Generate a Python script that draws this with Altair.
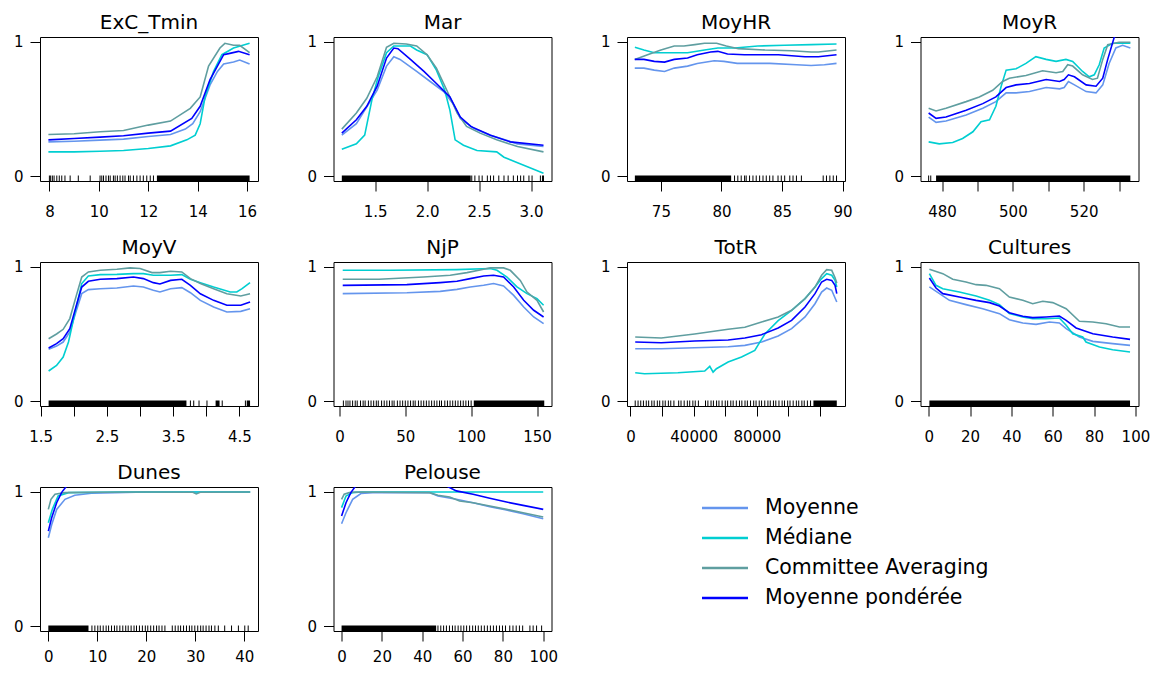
import altair as alt
import pandas as pd

SERIES = ["Moyenne", "Médiane", "Committee Averaging", "Moyenne pondérée"]
COLORS = ["#6495ED", "#00CED1", "#5F9EA0", "#0000FF"]
FONT = "DejaVu Sans"
Y_TICKS = [0, 0.2, 0.4, 0.6, 0.8, 1]

# ---------------- ExC_Tmin ----------------
EXC_MOY = [(7.96, 0.255), (9.0, 0.26), (10.05, 0.268), (11.0, 0.275), (12.0, 0.295), (12.9, 0.31),
           (13.5, 0.35), (13.8, 0.39), (14.1, 0.48), (14.5, 0.68), (14.8, 0.78), (15.05, 0.835),
           (15.45, 0.85), (15.7, 0.865), (16.1, 0.835)]
EXC_MED = [(7.96, 0.18), (9.0, 0.18), (10.05, 0.185), (11.0, 0.19), (12.0, 0.205), (12.9, 0.225),
           (13.56, 0.27), (13.9, 0.305), (14.1, 0.39), (14.3, 0.59), (14.64, 0.78), (14.98, 0.905),
           (15.45, 0.955), (16.1, 0.99)]
EXC_CA = [(7.96, 0.31), (9.0, 0.315), (10.05, 0.33), (11.0, 0.34), (12.0, 0.38), (12.9, 0.41),
          (13.7, 0.505), (14.1, 0.59), (14.44, 0.82), (14.9, 0.955), (15.1, 0.99), (15.45, 0.975),
          (15.7, 0.975), (16.1, 0.92)]
EXC_POND = [(7.96, 0.27), (9.0, 0.28), (10.05, 0.29), (11.0, 0.30), (12.0, 0.32), (12.9, 0.335),
            (13.76, 0.43), (14.1, 0.52), (14.5, 0.72), (15.05, 0.905), (15.3, 0.915), (15.65, 0.93),
            (16.1, 0.905)]
EXC_RUG = [8.0, 8.05, 8.12, 8.19, 8.3, 8.4, 8.5, 8.63, 8.84, 9.17, 9.65, 10.05, 10.12, 10.19, 10.29,
           10.39, 10.46, 10.59, 10.66, 10.75, 10.86, 10.97, 11.06, 11.2, 11.27, 11.4, 11.54, 11.67,
           11.8, 11.94, 12.08, 12.21]
EXC_RUG_DENSE = [(12.35, 16.1)]

# ---------------- Mar ----------------
MAR_MOY = [(1.18, 0.305), (1.32, 0.39), (1.52, 0.64), (1.61, 0.82), (1.68, 0.89), (1.74, 0.87),
           (1.9, 0.78), (2.03, 0.705), (2.16, 0.63), (2.25, 0.54), (2.32, 0.43), (2.45, 0.355),
           (2.61, 0.305), (2.87, 0.24), (3.12, 0.22)]
MAR_MED = [(1.18, 0.2), (1.32, 0.24), (1.40, 0.305), (1.47, 0.57), (1.53, 0.74), (1.61, 0.92),
           (1.68, 0.97), (1.84, 0.97), (1.9, 0.94), (2.0, 0.905), (2.09, 0.79), (2.17, 0.64),
           (2.22, 0.49), (2.27, 0.27), (2.35, 0.23), (2.48, 0.19), (2.67, 0.18), (2.74, 0.14),
           (2.9, 0.09), (3.12, 0.02)]
MAR_CA = [(1.18, 0.35), (1.32, 0.47), (1.42, 0.58), (1.52, 0.74), (1.61, 0.96), (1.68, 0.99),
          (1.8, 0.985), (1.9, 0.97), (2.0, 0.905), (2.09, 0.805), (2.19, 0.64), (2.29, 0.47),
          (2.38, 0.37), (2.51, 0.32), (2.67, 0.27), (2.87, 0.22), (3.12, 0.18)]
MAR_POND = [(1.18, 0.32), (1.32, 0.42), (1.42, 0.52), (1.52, 0.67), (1.61, 0.88), (1.68, 0.955),
            (1.72, 0.95), (1.84, 0.87), (1.97, 0.78), (2.09, 0.69), (2.22, 0.59), (2.32, 0.44),
            (2.42, 0.37), (2.61, 0.305), (2.8, 0.255), (3.12, 0.23)]
MAR_RUG = [2.43, 2.46, 2.5, 2.53, 2.58, 2.61, 2.64, 2.69, 2.74, 2.78, 2.83, 2.87, 2.9, 2.93, 2.98,
           3.01, 3.09, 3.11, 3.12]
MAR_RUG_DENSE = [(1.18, 2.42)]

# ---------------- MoyHR ----------------
MOYHR_MOY = [(72.84, 0.805), (73.6, 0.805), (74.45, 0.79), (75.3, 0.78), (76.1, 0.805), (77.2, 0.82),
             (78.0, 0.84), (79.4, 0.86), (80.2, 0.855), (81.3, 0.84), (84.0, 0.84), (86.2, 0.83),
             (87.4, 0.825), (88.5, 0.83), (89.5, 0.84)]
MOYHR_MED = [(72.85, 0.96), (73.6, 0.94), (74.45, 0.92), (75.3, 0.92), (76.4, 0.92), (77.2, 0.92),
             (78.6, 0.94), (79.7, 0.955), (81.1, 0.955), (83.0, 0.97), (85.2, 0.975), (87.4, 0.98),
             (89.5, 0.985)]
MOYHR_CA = [(72.84, 0.87), (73.9, 0.905), (75.0, 0.94), (76.1, 0.97), (76.9, 0.97), (77.8, 0.98),
            (78.6, 0.99), (79.6, 0.99), (80.4, 0.97), (81.4, 0.95), (83.6, 0.94), (85.8, 0.935),
            (87.4, 0.925), (88.0, 0.925), (89.5, 0.94)]
MOYHR_POND = [(72.84, 0.87), (73.6, 0.87), (74.45, 0.855), (75.3, 0.85), (76.1, 0.87), (77.2, 0.88),
              (78.0, 0.905), (79.1, 0.925), (79.7, 0.93), (80.5, 0.91), (81.9, 0.905), (84.7, 0.905),
              (86.9, 0.89), (88.0, 0.89), (89.5, 0.905)]
MOYHR_RUG = [81.08, 81.35, 81.63, 81.91, 82.04, 82.32, 82.6, 82.87, 83.15, 83.43, 83.7, 83.98,
             84.25, 84.67, 84.94, 85.22, 85.64, 85.91, 86.19, 86.6, 88.4, 88.67, 88.95, 89.23, 89.5]
MOYHR_RUG_DENSE = [(72.85, 80.8)]

# ---------------- MoyR ----------------
MOYR_MOY = [(476.2, 0.44), (478.3, 0.40), (481.1, 0.41), (486.8, 0.455), (491.5, 0.505), (495.2, 0.555),
            (498.1, 0.62), (500.9, 0.62), (504.7, 0.63), (509.4, 0.66), (513.2, 0.65), (514.5, 0.66),
            (515.7, 0.705), (517.4, 0.68), (520.7, 0.63), (523.5, 0.62), (525.4, 0.68), (527.2, 0.84),
            (529.1, 0.955), (531.0, 0.975), (533.2, 0.955)]
MOYR_MED = [(476.2, 0.255), (479.2, 0.24), (483.0, 0.25), (485.8, 0.28), (488.7, 0.33), (491.0, 0.405),
            (493.4, 0.42), (495.2, 0.52), (496.7, 0.67), (498.1, 0.79), (500.9, 0.8), (503.7, 0.84),
            (506.5, 0.89), (509.4, 0.87), (512.2, 0.855), (515.0, 0.87), (516.9, 0.855), (519.7, 0.78),
            (521.6, 0.74), (523.0, 0.755), (524.4, 0.83), (525.8, 0.955), (528.2, 0.99), (533.2, 0.99)]
MOYR_CA = [(476.2, 0.505), (478.3, 0.485), (481.1, 0.505), (486.8, 0.555), (490.5, 0.59), (494.3, 0.64),
           (497.1, 0.705), (499.0, 0.73), (503.7, 0.75), (508.4, 0.785), (512.2, 0.77), (514.1, 0.78),
           (515.5, 0.83), (516.9, 0.82), (519.7, 0.755), (522.5, 0.72), (523.9, 0.73), (525.4, 0.87),
           (526.8, 0.98), (530.0, 0.998), (533.2, 0.998)]
MOYR_POND = [(476.2, 0.47), (478.3, 0.43), (481.1, 0.44), (486.8, 0.49), (491.5, 0.54), (495.2, 0.59),
             (498.1, 0.66), (500.9, 0.68), (504.7, 0.69), (509.4, 0.72), (513.2, 0.705), (514.5, 0.72),
             (515.7, 0.755), (517.4, 0.74), (520.7, 0.68), (523.5, 0.67), (525.4, 0.73), (526.8, 0.87),
             (528.7, 1.04), (533.2, 1.06)]
MOYR_RUG = [476.2, 476.8]
MOYR_RUG_DENSE = [(478.3, 533.2)]

# ---------------- MoyV ----------------
MOYV_MOY = [(1.62, 0.386), (1.74, 0.41), (1.84, 0.44), (1.94, 0.515), (2.04, 0.677), (2.12, 0.801),
            (2.22, 0.831), (2.4, 0.838), (2.65, 0.843), (2.9, 0.858), (3.05, 0.851), (3.2, 0.826),
            (3.3, 0.813), (3.46, 0.838), (3.63, 0.846), (3.76, 0.808), (3.91, 0.751), (4.11, 0.701),
            (4.31, 0.664), (4.52, 0.669), (4.66, 0.689)]
MOYV_MED = [(1.62, 0.224), (1.74, 0.266), (1.84, 0.328), (1.92, 0.44), (2.02, 0.664), (2.12, 0.876),
            (2.22, 0.933), (2.4, 0.943), (2.65, 0.945), (2.9, 0.95), (3.05, 0.95), (3.2, 0.938),
            (3.3, 0.938), (3.46, 0.938), (3.63, 0.943), (3.76, 0.908), (3.91, 0.883), (4.11, 0.85),
            (4.36, 0.813), (4.46, 0.813), (4.54, 0.838), (4.66, 0.883)]
MOYV_CA = [(1.62, 0.465), (1.74, 0.50), (1.84, 0.535), (1.94, 0.615), (2.04, 0.79), (2.12, 0.925),
           (2.22, 0.963), (2.4, 0.975), (2.65, 0.983), (2.85, 0.993), (3.0, 0.988), (3.18, 0.958),
           (3.3, 0.958), (3.46, 0.968), (3.63, 0.963), (3.76, 0.913), (3.91, 0.876), (4.11, 0.838),
           (4.31, 0.8), (4.52, 0.784), (4.66, 0.8)]
MOYV_POND = [(1.62, 0.396), (1.74, 0.428), (1.84, 0.465), (1.94, 0.54), (2.04, 0.714), (2.12, 0.85),
             (2.22, 0.893), (2.4, 0.908), (2.65, 0.913), (2.9, 0.925), (3.05, 0.913), (3.2, 0.883),
             (3.3, 0.873), (3.46, 0.9), (3.63, 0.908), (3.76, 0.863), (3.91, 0.8), (4.11, 0.751),
             (4.31, 0.714), (4.52, 0.714), (4.66, 0.739)]
MOYV_RUG = [3.76, 3.81, 3.89, 4.01, 4.24, 4.59]
MOYV_RUG_DENSE = [(1.62, 3.7), (4.14, 4.2), (4.61, 4.66)]

# ---------------- NjP ----------------
NJP_MOY = [(2.5, 0.801), (51.2, 0.808), (76.5, 0.818), (89.2, 0.833), (99.3, 0.851), (109.5, 0.863),
           (117.0, 0.876), (124.6, 0.858), (132.3, 0.788), (139.9, 0.701), (147.5, 0.627), (155.0, 0.577)]
NJP_MED = [(2.5, 0.975), (38.5, 0.975), (89.0, 0.98), (114.5, 0.988), (119.6, 0.975), (127.2, 0.925),
           (134.8, 0.851), (142.4, 0.801), (150.0, 0.764), (155.0, 0.714)]
NJP_CA = [(2.5, 0.908), (30.0, 0.908), (63.8, 0.925), (84.1, 0.938), (96.8, 0.958), (109.5, 0.983),
          (114.5, 0.993), (124.6, 0.993), (129.7, 0.975), (137.3, 0.9), (142.4, 0.813), (150.0, 0.751),
          (155.0, 0.664)]
NJP_POND = [(2.5, 0.863), (51.2, 0.868), (76.5, 0.883), (89.2, 0.893), (99.3, 0.913), (109.5, 0.933),
            (117.0, 0.938), (124.6, 0.925), (132.3, 0.851), (139.9, 0.751), (147.5, 0.677), (155.0, 0.627)]
NJP_RUG = [3, 5, 6.5, 8, 10, 12, 13.5, 16, 18, 19.5, 22, 24, 26, 28, 29.5, 32, 34, 36, 38, 40, 41.5,
           44, 46, 48, 50, 52, 54, 56, 57.5, 60, 62, 64, 66, 68, 70, 72, 74, 76, 77.5, 80, 82, 84,
           86, 88, 90, 92, 94, 96, 98, 100]
NJP_RUG_DENSE = [(102, 155.5)]

# ---------------- TotR ----------------
TOTR_MOY = [(3000, 0.39), (19500, 0.39), (40600, 0.398), (61800, 0.405), (72400, 0.415), (83000, 0.44),
            (93500, 0.485), (102000, 0.54), (110500, 0.627), (116800, 0.726), (121000, 0.813),
            (124200, 0.843), (127400, 0.826), (130600, 0.739)]
TOTR_MED = [(3000, 0.211), (8900, 0.204), (30000, 0.211), (47000, 0.224), (50200, 0.259), (52300, 0.216),
            (54400, 0.241), (61800, 0.291), (70300, 0.328), (78700, 0.378), (81900, 0.44), (85100, 0.5),
            (93500, 0.6), (102000, 0.677), (110500, 0.764), (116800, 0.85), (121000, 0.913),
            (124200, 0.95), (127400, 0.938), (129500, 0.9), (130600, 0.85)]
TOTR_CA = [(3000, 0.478), (19500, 0.47), (40600, 0.5), (61800, 0.535), (72400, 0.55), (83000, 0.59),
           (93500, 0.627), (102000, 0.677), (110500, 0.764), (116800, 0.85), (121000, 0.938),
           (124200, 0.98), (127400, 0.975), (129500, 0.92), (130600, 0.88)]
TOTR_POND = [(3000, 0.44), (19500, 0.435), (40600, 0.448), (61800, 0.455), (72400, 0.47), (83000, 0.495),
             (93500, 0.545), (102000, 0.602), (110500, 0.701), (116800, 0.801), (121000, 0.888),
             (124200, 0.908), (127400, 0.9), (129500, 0.863), (130600, 0.801)]
TOTR_RUG = [3000, 4800, 6500, 8200, 10000, 11500, 13500, 15000, 17000, 18500, 20500, 22000, 24000,
            25500, 27500, 30500, 32000, 34000, 36000, 37500, 39500, 41000, 43000, 47500, 49000,
            51000, 52500, 54500, 56000, 58000, 60000, 61500, 63500, 65000, 67000, 69000, 70500,
            72500, 74000, 76000, 78000, 79500, 81500, 83000, 85000, 87000, 88500, 90500, 92000,
            94000, 96000, 97500, 99500, 101000, 103000, 105000, 106500, 108500, 110000, 112000, 114000]
TOTR_RUG_DENSE = [(115800, 130600)]

# ---------------- Cultures ----------------
CULT_MOY = [(0.3, 0.851), (5.2, 0.801), (10.0, 0.751), (18.0, 0.719), (26.1, 0.689), (34.2, 0.652),
            (39.0, 0.607), (45.5, 0.582), (51.9, 0.572), (58.4, 0.59), (63.2, 0.582), (66.5, 0.54),
            (72.9, 0.478), (79.4, 0.445), (89.0, 0.428), (97.4, 0.415)]
CULT_MED = [(0.3, 0.95), (3.5, 0.863), (6.8, 0.838), (14.8, 0.813), (22.9, 0.784), (29.4, 0.751),
            (34.2, 0.719), (39.0, 0.652), (45.5, 0.627), (50.3, 0.614), (56.8, 0.614), (63.2, 0.619),
            (66.5, 0.565), (69.7, 0.502), (74.5, 0.478), (76.1, 0.44), (82.6, 0.403), (89.0, 0.383),
            (97.4, 0.366)]
CULT_CA = [(0.3, 0.983), (6.8, 0.95), (11.6, 0.908), (18.0, 0.888), (22.9, 0.868), (27.7, 0.863),
           (34.2, 0.838), (39.0, 0.776), (45.5, 0.751), (50.3, 0.726), (55.2, 0.744), (60.0, 0.734),
           (66.5, 0.689), (72.9, 0.595), (79.4, 0.59), (85.8, 0.577), (92.3, 0.552), (97.4, 0.552)]
CULT_POND = [(0.3, 0.918), (3.5, 0.843), (6.8, 0.801), (14.8, 0.776), (22.9, 0.751), (29.4, 0.734),
             (34.2, 0.709), (39.0, 0.659), (45.5, 0.632), (50.3, 0.622), (56.8, 0.627), (63.2, 0.634),
             (66.5, 0.602), (71.3, 0.545), (79.4, 0.502), (89.0, 0.478), (97.4, 0.46)]
CULT_RUG = []
CULT_RUG_DENSE = [(0.3, 97.4)]

# ---------------- Dunes ----------------
DUNES_MOY = [(0, 0.658), (0.68, 0.755), (1.7, 0.87), (3.4, 0.945), (5.4, 0.975), (8.8, 0.99),
             (13.6, 0.995), (20, 1.0), (41.2, 1.0)]
DUNES_MED = [(0, 0.77), (0.82, 0.87), (2.0, 0.97), (4.1, 0.995), (15, 1.0), (41.2, 1.0)]
DUNES_CA = [(0, 0.87), (0.54, 0.945), (1.36, 0.983), (3.4, 0.995), (10, 0.998), (20, 1.0),
            (29.5, 0.998), (30.2, 0.985), (31, 0.998), (41.2, 1.0)]
DUNES_POND = [(0, 0.708), (0.68, 0.808), (1.7, 0.92), (2.7, 0.995), (3.74, 1.045), (5.0, 1.1)]
DUNES_RUG = [8.9, 9.5, 10.1, 10.6, 11.2, 11.8, 12.3, 12.9, 13.5, 14.0, 14.6, 15.2, 15.8, 16.3, 16.9,
             17.5, 18.0, 18.6, 19.2, 19.8, 20.3, 20.9, 21.5, 22.1, 22.6, 23.2, 23.8, 25.3, 25.9, 26.5,
             27.0, 27.6, 28.2, 28.8, 29.3, 29.9, 30.5, 31.1, 31.6, 32.2, 32.8, 33.3, 34.0, 34.7, 36.0,
             37.4, 38.8, 40.1, 40.8]
DUNES_RUG_DENSE = [(0, 8.2)]

# ---------------- Pelouse ----------------
PEL_MOY = [(0, 0.763), (2.2, 0.845), (5.5, 0.945), (9.6, 0.988), (15.4, 0.995), (43.6, 0.995),
           (47.8, 0.97), (56.9, 0.945), (65.2, 0.92), (73.5, 0.89), (81.8, 0.865), (90, 0.838), (100, 0.8)]
PEL_MED = [(0, 0.883), (2.2, 0.97), (5.5, 0.995), (10, 1.0), (100, 1.0)]
PEL_CA = [(0, 0.945), (1.3, 0.983), (3.8, 0.995), (7, 1.0), (43.6, 0.995), (47.8, 0.975), (53.6, 0.963),
          (58.5, 0.933), (65.2, 0.92), (73.5, 0.895), (81.8, 0.87), (90, 0.845), (100, 0.813)]
PEL_POND = [(0, 0.82), (2.2, 0.92), (4.6, 0.995), (7, 1.045), (15, 1.1), (45, 1.1), (52, 1.045),
            (56.9, 1.008), (65.2, 0.983), (73.5, 0.953), (81.8, 0.925), (90, 0.9), (100, 0.87)]
PEL_RUG = [47.8, 49.2, 50.6, 52, 53.5, 55, 56.3, 57.8, 59.2, 60.6, 62, 63.5, 65, 66.4, 67.8, 69.3,
           70.8, 72.3, 73.8, 75.3, 76.8, 78.3, 79.8, 81.3, 83.4, 85, 86.6, 88.2, 89.8, 93.4, 95, 96.7, 99.2]
PEL_RUG_DENSE = [(0, 46.9)]

PANELS = [
    ("ExC_Tmin", [7.62, 16.44], [8, 10, 12, 14, 16], "d", None,
     [EXC_MOY, EXC_MED, EXC_CA, EXC_POND], EXC_RUG, EXC_RUG_DENSE, 13),
    ("Mar", [1.10, 3.197], [1.5, 2.0, 2.5, 3.0], ".1f", None,
     [MAR_MOY, MAR_MED, MAR_CA, MAR_POND], MAR_RUG, MAR_RUG_DENSE, 13),
    ("MoyHR", [72.2, 90.2], [75, 80, 85, 90], "d", None,
     [MOYHR_MOY, MOYHR_MED, MOYHR_CA, MOYHR_POND], MOYHR_RUG, MOYHR_RUG_DENSE, 13),
    ("MoyR", [473.9, 535.5], [480, 490, 500, 510, 520, 530], "d", [480, 500, 520],
     [MOYR_MOY, MOYR_MED, MOYR_CA, MOYR_POND], MOYR_RUG, MOYR_RUG_DENSE, 13),
    ("MoyV", [1.49, 4.78], [1.5, 2.0, 2.5, 3.0, 3.5, 4.0, 4.5], ".1f", [1.5, 2.5, 3.5, 4.5],
     [MOYV_MOY, MOYV_MED, MOYV_CA, MOYV_POND], MOYV_RUG, MOYV_RUG_DENSE, 13),
    ("NjP", [-4.5, 161], [0, 50, 100, 150], "d", None,
     [NJP_MOY, NJP_MED, NJP_CA, NJP_POND], NJP_RUG, NJP_RUG_DENSE, 13),
    ("TotR", [-2200, 135800], [0, 20000, 40000, 60000, 80000, 100000, 120000], "d", [0, 40000, 80000],
     [TOTR_MOY, TOTR_MED, TOTR_CA, TOTR_POND], TOTR_RUG, TOTR_RUG_DENSE, 13),
    ("Cultures", [-4.0, 101.5], [0, 20, 40, 60, 80, 100], "d", None,
     [CULT_MOY, CULT_MED, CULT_CA, CULT_POND], CULT_RUG, CULT_RUG_DENSE, 13),
    ("Dunes", [-1.7, 42.8], [0, 10, 20, 30, 40], "d", None,
     [DUNES_MOY, DUNES_MED, DUNES_CA, DUNES_POND], DUNES_RUG, DUNES_RUG_DENSE, 8),
    ("Pelouse", [-4.0, 104.1], [0, 20, 40, 60, 80, 100], "d", None,
     [PEL_MOY, PEL_MED, PEL_CA, PEL_POND], PEL_RUG, PEL_RUG_DENSE, 8),
]

W, H = 218, 144


def make_panel(title, domain, ticks, fmt, labeled, lines, rug, dense, lab_pad):
    xscale = alt.Scale(domain=domain, nice=False, zero=False)
    yscale = alt.Scale(domain=[-0.037, 1.037], nice=False, zero=False)
    if labeled is None:
        lab = "datum.label"
    else:
        lab = "indexof([" + ",".join(str(v) for v in labeled) + "], datum.value) >= 0 ? datum.label : ''"
    xaxis = alt.Axis(values=ticks, format=fmt, labelExpr=lab, title=None, grid=False, domain=False,
                     tickSize=10, labelPadding=lab_pad, labelOverlap=False, labelFlush=False)
    yaxis = alt.Axis(values=Y_TICKS, format="d",
                     labelExpr="datum.value == 0 || datum.value == 1 ? datum.label : ''",
                     title=None, grid=False, domain=False, tickSize=10, labelPadding=7,
                     labelOverlap=False, labelFlush=False)
    X = alt.X("x:Q", scale=xscale, axis=xaxis)
    layers = []
    if dense:
        ddf = pd.DataFrame(dense, columns=["x", "x2"])
        layers.append(alt.Chart(ddf).mark_rect(color="black").encode(
            x=X, x2="x2:Q", y=alt.value(H - 5.5), y2=alt.value(H)))
    if rug:
        rdf = pd.DataFrame({"x": rug})
        layers.append(alt.Chart(rdf).mark_rule(color="black", strokeWidth=1).encode(
            x=X, y=alt.value(H - 5.5), y2=alt.value(H)))
    for c, pts in zip(COLORS, lines):
        df = pd.DataFrame(pts, columns=["x", "y"])
        layers.append(alt.Chart(df).mark_line(color=c, strokeWidth=1.6, clip=True).encode(
            x=X, y=alt.Y("y:Q", scale=yscale, axis=yaxis)))
    return alt.layer(*layers).properties(
        width=W, height=H,
        title=alt.TitleParams(text=title, anchor="middle", frame="group"))


panels = [make_panel(*p) for p in PANELS]

leg_df = pd.DataFrame({"series": SERIES})
yleg = alt.Y("series:N", scale=alt.Scale(type="point", domain=SERIES, range=[21, 111], padding=0),
             axis=None)
cleg = alt.Color("series:N", scale=alt.Scale(domain=SERIES, range=COLORS), legend=None)
leg_rules = alt.Chart(leg_df).mark_rule(strokeWidth=2.6).encode(
    x=alt.value(75), x2=alt.value(121), y=yleg, color=cleg)
leg_text = alt.Chart(leg_df).mark_text(align="left", baseline="middle", font=FONT, fontSize=20.5,
                                       color="black").encode(x=alt.value(138), y=yleg, text="series:N")
legend = alt.layer(leg_rules, leg_text).properties(
    width=W, height=H, view=alt.ViewBackground(strokeOpacity=0))

chart = alt.ConcatChart(
    concat=panels + [legend], columns=4,
    spacing={"row": 81, "column": 75.5}, bounds="flush",
).configure_view(
    stroke="black", strokeWidth=1
).configure_axis(
    labelFont=FONT, labelFontSize=15, labelColor="black", tickColor="black", tickWidth=1
).configure_title(
    font=FONT, fontSize=20, fontWeight="normal", color="black", offset=2, baseline="alphabetic"
).properties(
    background="white",
    autosize=alt.AutoSizeParams(type="none"),
    padding={"left": 32, "top": 29, "right": 1110, "bottom": 628},
)

chart.save("out.html", embed_options={"renderer": "svg", "actions": False})
